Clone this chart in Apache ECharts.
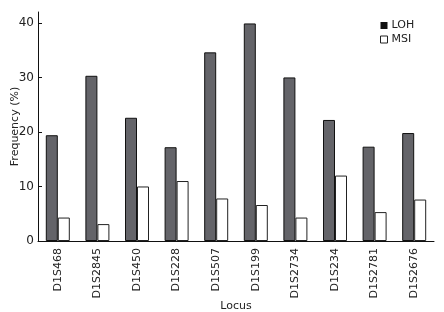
<!DOCTYPE html>
<html>
<head>
<meta charset="utf-8">
<script src="https://cdn.jsdelivr.net/npm/echarts@6/dist/echarts.min.js"></script>
<style>
  html, body { margin: 0; padding: 0; background: #fff; }
  #chart { width: 444px; height: 312px; }
</style>
</head>
<body>
<div id="chart"></div>
<script>
var loci = ['D1S468', 'D1S2845', 'D1S450', 'D1S228', 'D1S507', 'D1S199', 'D1S2734', 'D1S234', 'D1S2781', 'D1S2676'];
var lohData = [19.4, 30.3, 22.6, 17.2, 34.6, 39.9, 30.0, 22.2, 17.3, 19.8];
var msiData = [4.3, 3.1, 10.0, 11.0, 7.8, 6.6, 4.3, 12.0, 5.3, 7.6];
var yTicks = [0, 10, 20, 30, 40];

var myChart = echarts.init(document.getElementById('chart'));
var font = 'DejaVu Sans';

var option = {
    animation: false,
    textStyle: { fontFamily: font },
    legend: {
        orient: 'vertical',
        left: 375,
        top: 15,
        icon: 'rect',
        itemWidth: 7,
        itemHeight: 7,
        itemGap: 3,
        textStyle: { fontSize: 11, color: '#222', fontFamily: font, padding: [0, 0, 0, -1] },
        data: [
            { name: 'LOH', itemStyle: { color: '#111', borderWidth: 0 } },
            { name: 'MSI', itemStyle: { color: '#fff', borderColor: '#222', borderWidth: 1 } }
        ]
    },
    grid: { left: 38, right: 10, top: 12, bottom: 71, containLabel: false, outerBoundsMode: 'none' },
    xAxis: {
        type: 'category',
        data: loci,
        name: 'Locus',
        nameLocation: 'middle',
        nameGap: 60,
        nameMoveOverlap: false,
        nameTextStyle: { fontSize: 11, color: '#222', fontFamily: font },
        axisLine: { lineStyle: { color: '#111', width: 1 } },
        axisTick: { inside: true, length: 4, interval: 0, lineStyle: { color: '#111' } },
        axisLabel: { rotate: 90, interval: 0, fontSize: 11, color: '#222', margin: 7, fontFamily: font }
    },
    yAxis: {
        type: 'value',
        min: 0,
        max: 42,
        interval: 10,
        name: 'Frequency (%)',
        nameLocation: 'middle',
        nameRotate: 90,
        nameGap: 17,
        nameMoveOverlap: false,
        nameTextStyle: { fontSize: 11, color: '#222', fontFamily: font },
        axisLine: { show: true, lineStyle: { color: '#111', width: 1 } },
        axisTick: { show: true, inside: true, length: 4, customValues: yTicks, lineStyle: { color: '#111' } },
        axisLabel: { fontSize: 12, color: '#222', margin: 4, customValues: yTicks, fontFamily: font },
        splitLine: { show: false }
    },
    series: [{
        name: 'LOH',
        type: 'bar',
        barWidth: 12,
        barGap: '0%',
        itemStyle: { color: '#646469', borderColor: '#111', borderWidth: 1 },
        data: lohData
    }, {
        name: 'MSI',
        type: 'bar',
        barWidth: 12,
        itemStyle: { color: '#fff', borderColor: '#222', borderWidth: 1 },
        data: msiData
    }]
};

myChart.setOption(option);
window.addEventListener('resize', function () {
    myChart.resize();
});
</script>
</body>
</html>
